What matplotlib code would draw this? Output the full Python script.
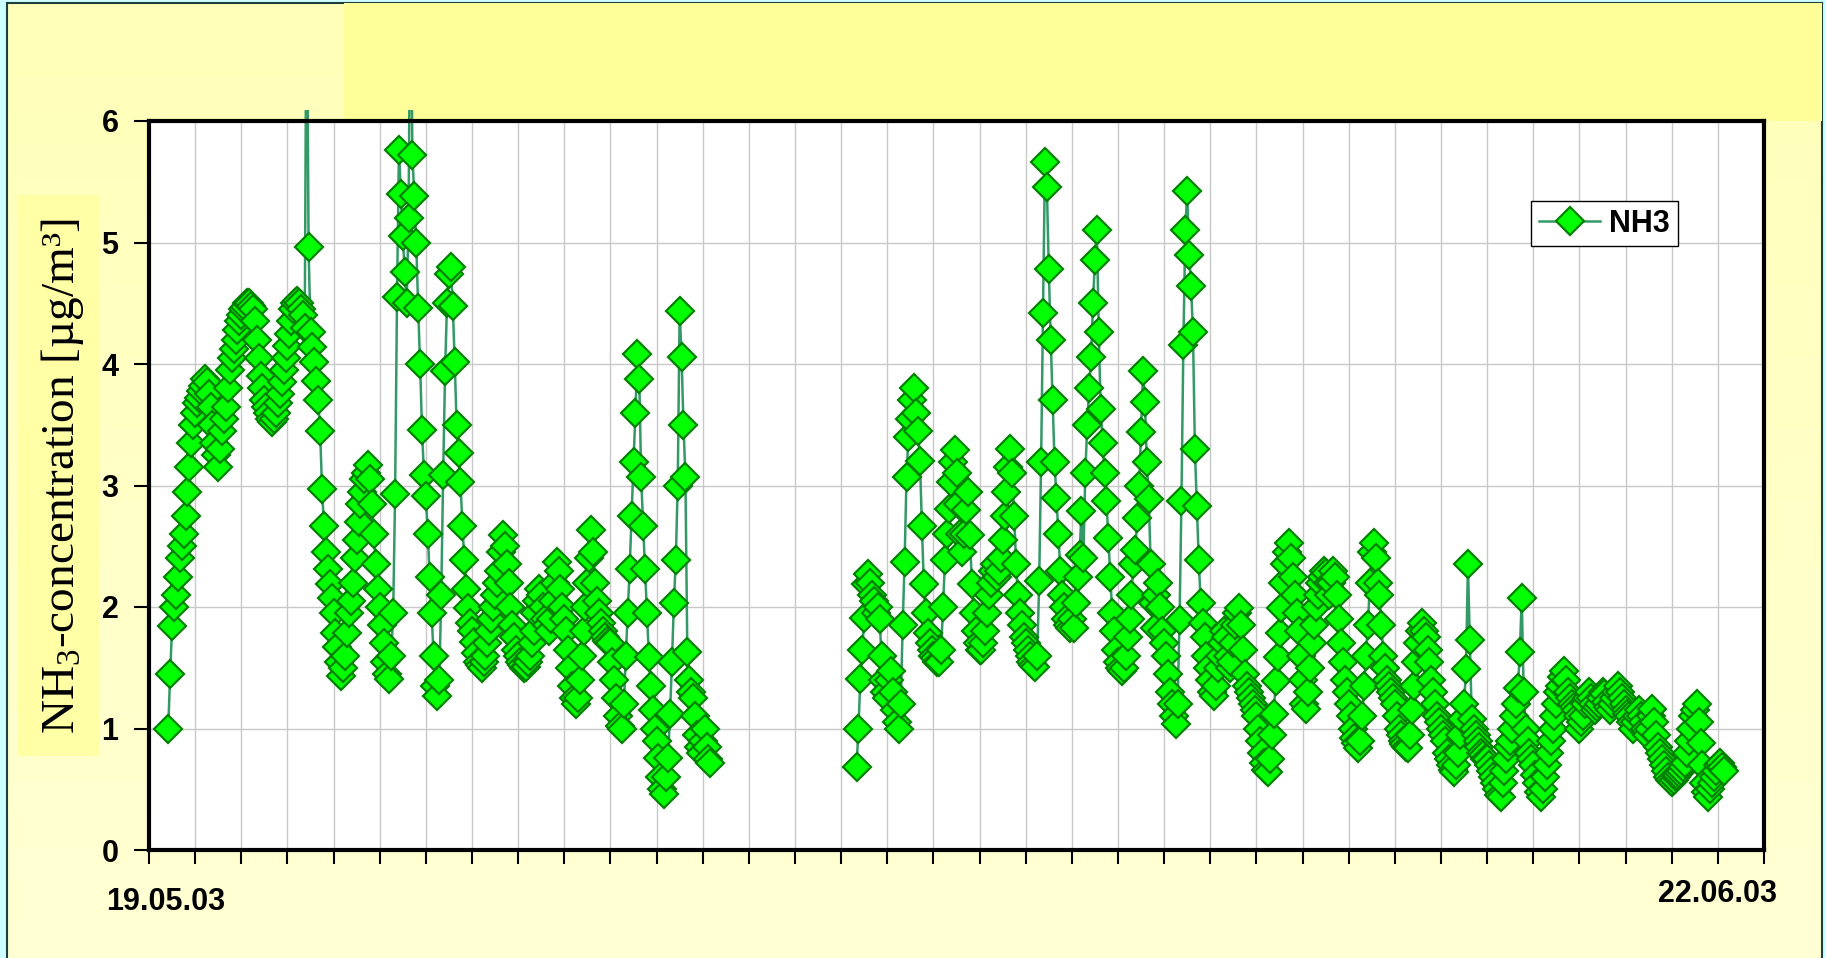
import numpy as np
import matplotlib.pyplot as plt
from matplotlib.patches import Rectangle

plt.rcParams['mathtext.fontset'] = 'custom'
plt.rcParams['mathtext.rm'] = 'Liberation Serif'
plt.rcParams['mathtext.it'] = 'Liberation Serif:italic'

# NH3 readings, hourly, time in days after 19.05.03 00:00
step = 1 / 24
seg1_start = 10 / 24          # 19.05.03 10:00
seg1 = [
    1.0, 1.45, 1.84, 2.0, 2.1, 2.25, 2.4, 2.5, 2.6, 2.75, 2.95, 3.15, 3.35, 3.5,
    3.6, 3.68, 3.72, 3.78, 3.82, 3.88, 3.85, 3.75, 3.65, 3.5, 3.35, 3.25,
    3.15, 3.3, 3.45, 3.55, 3.65, 3.8, 3.95, 4.05, 4.12, 4.2, 4.28, 4.35,
    4.4, 4.45, 4.47, 4.5, 4.5, 4.48, 4.45, 4.35, 4.2, 4.05, 3.9, 3.8,
    3.7, 3.65, 3.6, 3.55, 3.52, 3.55, 3.6, 3.68, 3.75, 3.85, 3.95, 4.05,
    4.15, 4.25, 4.35, 4.45, 4.5, 4.52, 4.5, 4.45, 4.4, 4.3, 7.5, 4.96,
    4.26, 4.14, 4.02, 3.86, 3.7, 3.45, 2.97, 2.67, 2.45, 2.31, 2.19, 2.07,
    1.95, 1.79, 1.67, 1.55, 1.43, 1.5, 1.6, 1.79, 1.95, 2.05, 2.2, 2.4,
    2.55, 2.7, 2.85, 2.95, 3.05, 3.1, 3.17, 3.05, 2.85, 2.6, 2.35, 2.15,
    2.0, 1.85, 1.7, 1.55, 1.45, 1.41, 1.6, 1.95, 2.93, 4.55, 5.76, 5.4,
    5.05, 4.76, 4.5, 5.2, 7.5, 5.72, 5.38, 5.0, 4.46, 4.0, 3.46, 3.09,
    2.91, 2.6, 2.25, 1.95, 1.6, 1.35, 1.27, 1.4, 2.1, 3.09, 3.94, 4.5,
    4.74, 4.8, 4.48, 4.02, 3.5, 3.27, 3.03, 2.67, 2.39, 2.15, 1.99, 1.87,
    1.8, 1.71, 1.62, 1.55, 1.52, 1.5, 1.55, 1.6, 1.7, 1.8, 1.9, 2.0,
    2.1, 2.2, 2.3, 2.45, 2.59, 2.5, 2.35, 2.2, 2.0, 1.85, 1.75, 1.65,
    1.6, 1.55, 1.52, 1.5, 1.51, 1.55, 1.6, 1.7, 1.8, 1.95, 2.05, 2.15,
    2.1, 2.0, 1.9, 1.85, 1.8, 1.9, 2.05, 2.2, 2.37, 2.3, 2.15, 2.0,
    1.9, 1.8, 1.65, 1.5, 1.35, 1.25, 1.2, 1.25, 1.4, 1.6, 1.8, 2.0,
    2.2, 2.4, 2.63, 2.45, 2.2, 2.05, 1.95, 1.87, 1.8, 1.75, 1.72, 1.7,
    1.7, 1.55, 1.4, 1.25, 1.1, 1.02, 1.0, 1.2, 1.6, 1.95, 2.31, 2.75,
    3.19, 3.6, 4.08, 3.88, 3.07, 2.67, 2.31, 1.95, 1.59, 1.35, 1.15, 1.0,
    0.9, 0.76, 0.6, 0.5, 0.46, 0.6, 0.76, 1.12, 1.55, 2.03, 2.39, 3.0,
    4.44, 4.06, 3.5, 3.07, 1.63, 1.4, 1.3, 1.25, 1.1, 0.95, 0.85, 0.8,
    0.9, 1.0, 0.85, 0.75, 0.72,
]
seg2_start = 15 + 8 / 24      # 03.06.03 08:00
seg2 = [
    0.68, 1.0, 1.41, 1.65, 1.91, 2.19, 2.27, 2.2, 2.1, 2.05, 1.95, 2.0, 1.9, 1.6, 1.4, 1.3,
    1.25, 1.4, 1.47, 1.3, 1.15, 1.05, 1.0, 1.2, 1.85, 2.37, 3.07, 3.4,
    3.55, 3.7, 3.8, 3.6, 3.45, 3.2, 2.67, 2.19, 1.95, 1.79, 1.7, 1.65,
    1.6, 1.58, 1.55, 1.55, 1.65, 2.0, 2.39, 2.6, 2.81, 3.03, 3.19, 3.29,
    3.1, 2.85, 2.6, 2.45, 2.6, 2.8, 2.95, 2.59, 2.19, 1.95, 1.8, 1.7,
    1.65, 1.65, 1.7, 1.8, 1.95, 2.1, 2.2, 2.3, 2.35, 2.25, 2.3, 2.4,
    2.55, 2.75, 2.95, 3.15, 3.3, 3.1, 2.75, 2.35, 2.1, 1.95, 1.85, 1.75,
    1.7, 1.65, 1.6, 1.55, 1.52, 1.51, 1.6, 2.21, 3.19, 4.42, 5.66, 5.46,
    4.78, 4.2, 3.7, 3.19, 2.9, 2.6, 2.3, 2.1, 2.0, 1.9, 1.85, 1.83,
    1.9, 1.83, 2.03, 2.25, 2.43, 2.79, 2.4, 3.1, 3.5, 3.8, 4.06, 4.5,
    4.86, 5.1, 4.26, 3.63, 3.35, 3.1, 2.87, 2.57, 2.25, 1.95, 1.8, 1.65,
    1.55, 1.5, 1.47, 1.5, 1.6, 1.75, 1.9, 2.1, 2.35, 2.47, 2.73, 3.0,
    3.44, 3.94, 3.69, 3.19, 2.89, 2.35, 2.03, 1.83, 2.1, 2.2, 2.0, 1.8,
    1.7, 1.6, 1.45, 1.3, 1.2, 1.1, 1.04, 1.2, 1.89, 2.87, 4.16, 5.1,
    5.42, 4.9, 4.64, 4.26, 3.3, 2.83, 2.39, 2.03, 1.87, 1.75, 1.6, 1.5,
    1.4, 1.3, 1.27, 1.35, 1.5, 1.6, 1.7, 1.8, 1.75, 1.6, 1.5, 1.55,
    1.7, 1.85, 1.95, 1.99, 1.85, 1.65, 1.45, 1.35, 1.3, 1.25, 1.2, 1.15,
    1.1, 1.0, 0.9, 0.8, 0.72, 0.66, 0.64, 0.75, 0.95, 1.12, 1.39, 1.59,
    1.79, 1.99, 2.2, 2.35, 2.45, 2.53, 2.4, 2.25, 2.1, 1.95, 1.8, 1.6,
    1.4, 1.2, 1.16, 1.3, 1.5, 1.7, 1.85, 2.0, 2.1, 2.2, 2.25, 2.3,
    2.28, 2.2, 2.1, 2.2, 2.3, 2.25, 2.1, 1.9, 1.7, 1.55, 1.4, 1.3,
    1.2, 1.1, 1.0, 0.92, 0.88, 0.84, 0.9, 1.1, 1.35, 1.6, 1.85, 2.2,
    2.45, 2.53, 2.4, 2.2, 2.1, 1.85, 1.6, 1.5, 1.4, 1.35, 1.3, 1.25,
    1.2, 1.1, 1.0, 0.95, 0.9, 0.87, 0.85, 0.84, 0.95, 1.15, 1.35, 1.55,
    1.7, 1.8, 1.87, 1.8, 1.75, 1.65, 1.55, 1.4, 1.3, 1.2, 1.1, 1.05,
    1.0, 0.95, 0.9, 0.8, 0.75, 0.7, 0.66, 0.64, 0.7, 0.8, 0.95, 1.08,
    1.2, 1.49, 2.35, 1.73, 1.08, 1.0, 0.95, 0.9, 0.85, 0.8, 0.78, 0.75,
    0.75, 0.7, 0.65, 0.6, 0.55, 0.5, 0.45, 0.44, 0.55, 0.65, 0.75, 0.85,
    0.9, 1.0, 1.1, 1.2, 1.33, 1.63, 2.07, 1.3, 1.0, 0.9, 0.8, 0.75,
    0.7, 0.62, 0.55, 0.48, 0.44, 0.5, 0.6, 0.7, 0.8, 0.9, 1.0, 1.1,
    1.2, 1.3, 1.35, 1.42, 1.47, 1.4, 1.3, 1.25, 1.2, 1.18, 1.15, 1.1,
    1.0, 1.05, 1.1, 1.2, 1.25, 1.3, 1.25, 1.2, 1.15, 1.18, 1.2, 1.25,
    1.3, 1.28, 1.22, 1.18, 1.15, 1.2, 1.25, 1.3, 1.35, 1.3, 1.25, 1.2,
    1.15, 1.12, 1.1, 1.05, 1.0, 1.05, 1.1, 1.15, 1.1, 1.05, 1.0, 0.95,
    1.0, 1.1, 1.16, 1.05, 0.95, 0.85, 0.8, 0.75, 0.7, 0.65, 0.6, 0.58,
    0.56, 0.58, 0.6, 0.62, 0.63, 0.65, 0.68, 0.72, 0.8, 0.9, 1.0, 1.1,
    1.15, 1.2, 1.05, 0.88, 0.7, 0.55, 0.48, 0.44, 0.5, 0.55, 0.6, 0.65,
    0.7, 0.72, 0.68, 0.65,
]
n_days = 35
x_labels = {0: '19.05.03', 34: '22.06.03'}
y_ticks = [0, 1, 2, 3, 4, 5, 6]

t1 = seg1_start + np.arange(len(seg1)) * step
t2 = seg2_start + np.arange(len(seg2)) * step
t = np.concatenate([t1, [np.nan], t2])
nh3 = np.concatenate([seg1, [np.nan], seg2])

W, H = 1826, 958
fig = plt.figure(figsize=(W / 100, H / 100), dpi=100)
fig.patch.set_facecolor('#CCFFFF')

# chart area background
bg = fig.add_axes([7 / W, 0, (1822 - 7) / W, 1 - 3 / H], zorder=-10)
grad = np.linspace(0, 1, 200)[:, None]
top_c = np.array([255, 255, 185]) / 255
bot_c = np.array([255, 255, 212]) / 255
img = top_c + (bot_c - top_c) * grad[..., None]
bg.imshow(img, aspect='auto', extent=[0, 1, 0, 1])
bg.set_xticks([])
bg.set_yticks([])
for s in bg.spines.values():
    s.set_color('#1F3F3F')
    s.set_linewidth(1.5)
bg.spines['bottom'].set_visible(False)

fig.add_artist(Rectangle((344 / W, 1 - 121 / H), (1822 - 344) / W, 118 / H,
                         transform=fig.transFigure, facecolor='#FFFF99',
                         edgecolor='none', zorder=-5))
fig.add_artist(Rectangle((17 / W, 1 - 756 / H), 82 / W, (756 - 195) / H,
                         transform=fig.transFigure, facecolor='#FFFFA6',
                         edgecolor='none', zorder=-5))

ax = fig.add_axes([149 / W, 1 - 850 / H, (1764 - 149) / W, (850 - 121) / H])
ax.set_facecolor('white')
ax.set_xlim(0, n_days)
ax.set_ylim(0, 6)
ax.set_axisbelow(True)
ax.grid(True, color='#C8C8C8', linewidth=1)

line, = ax.plot(t, nh3, color='#339966', linewidth=1.8, marker='D',
                markersize=14.5, markerfacecolor='#00FF00',
                markeredgecolor='#008000', markeredgewidth=1.6, label='NH3')
clip = Rectangle((0, 0), 1, 1.015, transform=ax.transAxes)
line.set_clip_path(clip)

for s in ax.spines.values():
    s.set_linewidth(3)
    s.set_color('black')

ax.set_xticks(np.arange(n_days + 1))
ax.set_yticks(y_ticks)
ax.tick_params(axis='x', direction='out', length=10, width=1.5,
               labelbottom=False)
ax.tick_params(axis='y', direction='out', length=11, width=1.5, pad=11)
for lbl in ax.get_yticklabels():
    lbl.set_fontfamily('Liberation Sans')
    lbl.set_fontweight('bold')
    lbl.set_fontsize(22)

ax.annotate(x_labels[0], xy=(0, 0), xycoords=('data', 'axes fraction'),
            xytext=(17 * 0.72, -37 * 0.72), textcoords='offset points',
            ha='center', va='top', fontsize=22, fontweight='bold',
            family='Liberation Sans', annotation_clip=False)
ax.annotate(x_labels[34], xy=(34, 0), xycoords=('data', 'axes fraction'),
            xytext=(0, -29 * 0.72), textcoords='offset points',
            ha='center', va='top', fontsize=22, fontweight='bold',
            family='Liberation Sans', annotation_clip=False)

fig.text(63 / W, 1 - 476 / H, 'NH$_3$-concentration [µg/m³]',
         rotation=90, ha='center', va='center', fontsize=34,
         family='Liberation Serif')

leg = ax.legend(loc='upper left', bbox_to_anchor=(0.856, 0.890),
                prop=dict(weight='bold', size=22, family='Liberation Sans'),
                frameon=True, fancybox=False, edgecolor='black', framealpha=1,
                borderaxespad=0, handlelength=2.0, handletextpad=0.3,
                borderpad=0.25, numpoints=1)
leg.get_frame().set_linewidth(1)

fig.savefig('out.png', dpi=100, facecolor=fig.get_facecolor())
